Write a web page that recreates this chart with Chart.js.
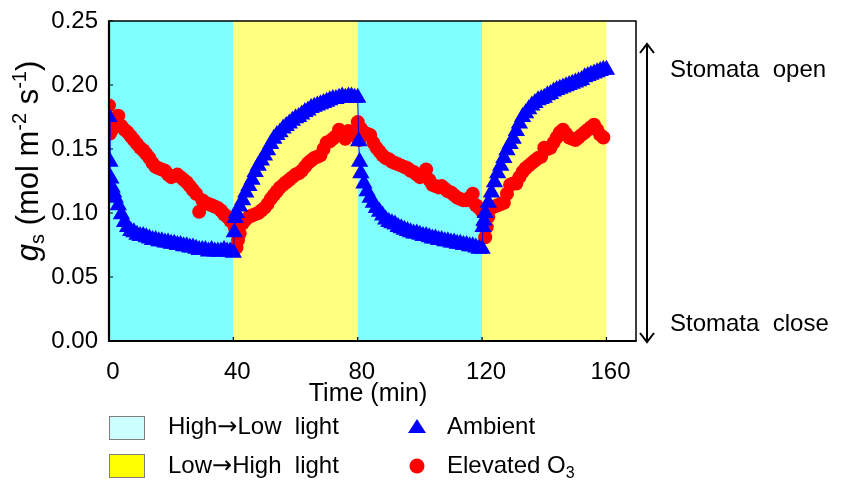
<!DOCTYPE html>
<html>
<head>
<meta charset="utf-8">
<script src="https://cdn.jsdelivr.net/npm/chart.js@4.4.0/dist/chart.umd.min.js"></script>
<style>
  html, body { margin: 0; padding: 0; background: #fff; }
</style>
</head>
<body>
<canvas id="gs-chart" width="846" height="483"></canvas>
<script>
const FONT = '"Liberation Sans", Arial, sans-serif';

// light periods (min): high->low, low->high, high->low, low->high
const bandStart = [0, 40, 80, 120];
const bandEnd = [40, 80, 120, 160];
const bandKind = ['down', 'up', 'down', 'up'];

const xTicks = [0, 40, 80, 120, 160];
const yTicks = [0, 0.05, 0.10, 0.15, 0.20, 0.25];

// Ambient
const ambTime = [
  0, 0.3, 0.6, 1, 1.5, 2, 3, 4, 5, 6, 7, 8, 9, 10, 11, 12, 13, 14, 15, 16, 17, 18, 19, 20, 21, 22, 23, 24, 25, 26, 27, 28, 29, 30, 31, 32, 33, 34, 35, 36, 37, 38, 39, 40,
  40.3, 40.6, 41, 42, 43, 44, 45, 46, 47, 48, 49, 50, 51, 52, 53, 54, 55, 56, 57, 58, 59, 60, 61, 62, 63, 64, 65, 66, 67, 68, 69, 70, 71, 72, 73, 74, 75, 76, 77, 78, 79, 80,
  80.3, 80.6, 81, 82, 83, 84, 85, 86, 87, 88, 89, 90, 91, 92, 93, 94, 95, 96, 97, 98, 99, 100, 101, 102, 103, 104, 105, 106, 107, 108, 109, 110, 111, 112, 113, 114, 115, 116, 117, 118, 119, 120,
  120.3, 120.6, 121, 122, 123, 124, 125, 126, 127, 128, 129, 130, 131, 132, 133, 134, 135, 136, 137, 138, 139, 140, 141, 142, 143, 144, 145, 146, 147, 148, 149, 150, 151, 152, 153, 154, 155, 156, 157, 158, 159, 160
];
const ambGs = [
  0.175, 0.140, 0.127, 0.120, 0.116, 0.112, 0.106, 0.099, 0.093, 0.089, 0.086, 0.085, 0.083, 0.082, 0.082, 0.081, 0.080, 0.079, 0.079, 0.078, 0.078, 0.077, 0.077, 0.076, 0.076, 0.075, 0.075, 0.074, 0.074, 0.073, 0.073, 0.072, 0.071, 0.071, 0.071, 0.070, 0.071, 0.070, 0.070, 0.070, 0.071, 0.070, 0.070, 0.069,
  0.085, 0.096, 0.100, 0.105, 0.110, 0.116, 0.121, 0.126, 0.132, 0.137, 0.141, 0.145, 0.149, 0.154, 0.158, 0.161, 0.163, 0.166, 0.168, 0.170, 0.172, 0.174, 0.175, 0.177, 0.179, 0.180, 0.182, 0.183, 0.184, 0.185, 0.186, 0.187, 0.188, 0.189, 0.189, 0.190, 0.191, 0.190, 0.191, 0.191, 0.190, 0.190,
  0.156, 0.140, 0.131, 0.123, 0.117, 0.112, 0.108, 0.104, 0.101, 0.098, 0.095, 0.093, 0.092, 0.091, 0.089, 0.088, 0.087, 0.086, 0.085, 0.084, 0.084, 0.083, 0.082, 0.082, 0.081, 0.080, 0.080, 0.079, 0.079, 0.078, 0.078, 0.077, 0.077, 0.076, 0.076, 0.075, 0.075, 0.074, 0.074, 0.073, 0.072, 0.072,
  0.089, 0.094, 0.100, 0.108, 0.116, 0.124, 0.131, 0.137, 0.143, 0.149, 0.154, 0.158, 0.164, 0.170, 0.175, 0.178, 0.181, 0.184, 0.186, 0.188, 0.189, 0.190, 0.192, 0.193, 0.195, 0.196, 0.197, 0.198, 0.199, 0.200, 0.201, 0.202, 0.203, 0.204, 0.206, 0.207, 0.208, 0.209, 0.210, 0.211, 0.212, 0.212
];

// Elevated O3
const o3Time = [
  0, 0.3, 0.6, 1, 2, 3, 4, 5, 6, 7, 8, 9, 10, 11, 12, 13, 14, 15, 16, 17, 18, 19, 20, 21, 22, 23, 24, 25, 26, 27, 28, 29, 30, 31, 32, 33, 34, 35, 36, 37, 38, 39, 40,
  40.5, 41, 41.5, 42, 43, 44, 45, 46, 47, 48, 49, 50, 51, 52, 53, 54, 55, 56, 57, 58, 59, 60, 61, 62, 63, 64, 65, 66, 67, 68, 69, 70, 71, 72, 73, 74, 75, 76, 77, 78, 79, 80,
  80.5, 81, 82, 83, 84, 85, 86, 87, 88, 89, 90, 91, 92, 93, 94, 95, 96, 97, 98, 99, 100, 101, 102, 103, 104, 105, 106, 107, 108, 109, 110, 111, 112, 113, 114, 115, 116, 117, 118, 119, 120,
  120.5, 121, 121.5, 122, 123, 124, 125, 126, 127, 128, 129, 130, 131, 132, 133, 134, 135, 136, 137, 138, 139, 140, 141, 142, 143, 144, 145, 146, 147, 148, 149, 150, 151, 152, 153, 154, 155, 156, 157, 158, 159
];
const o3Gs = [
  0.184, 0.162, 0.169, 0.165, 0.174, 0.176, 0.168, 0.165, 0.163, 0.160, 0.157, 0.154, 0.151, 0.149, 0.146, 0.143, 0.139, 0.136, 0.135, 0.134, 0.133, 0.130, 0.128, 0.129, 0.130, 0.128, 0.126, 0.124, 0.121, 0.118, 0.115, 0.101, 0.110, 0.108, 0.107, 0.106, 0.105, 0.104, 0.102, 0.099, 0.097, 0.094, 0.092,
  0.088, 0.073, 0.079, 0.084, 0.092, 0.095, 0.097, 0.098, 0.099, 0.100, 0.102, 0.104, 0.107, 0.111, 0.114, 0.117, 0.120, 0.122, 0.124, 0.126, 0.128, 0.130, 0.131, 0.133, 0.136, 0.139, 0.141, 0.143, 0.144, 0.145, 0.150, 0.155, 0.156, 0.158, 0.160, 0.165, 0.163, 0.158, 0.164, 0.161, 0.163, 0.171,
  0.157, 0.166, 0.163, 0.162, 0.161, 0.155, 0.151, 0.148, 0.145, 0.143, 0.142, 0.140, 0.139, 0.138, 0.137, 0.136, 0.135, 0.133, 0.132, 0.130, 0.128, 0.130, 0.134, 0.126, 0.122, 0.121, 0.120, 0.121, 0.119, 0.117, 0.116, 0.114, 0.112, 0.111, 0.110, 0.110, 0.112, 0.115, 0.106, 0.104, 0.101,
  0.090, 0.081, 0.089, 0.097, 0.104, 0.105, 0.106, 0.107, 0.108, 0.115, 0.122, 0.123, 0.123, 0.128, 0.132, 0.135, 0.137, 0.139, 0.141, 0.143, 0.144, 0.151, 0.150, 0.151, 0.155, 0.159, 0.163, 0.165, 0.162, 0.159, 0.158, 0.157, 0.159, 0.161, 0.163, 0.165, 0.167, 0.169, 0.165, 0.161, 0.159
];

const pts = (xs, ys) => xs.map((x, i) => ({ x: x, y: ys[i] }));

// coloured light periods behind the data
const lightBands = {
  id: 'lightBands',
  beforeDatasetsDraw(chart) {
    const { ctx, chartArea, scales } = chart;
    ctx.save();
    bandStart.forEach((s, i) => {
      const x0 = scales.x.getPixelForValue(s);
      const x1 = scales.x.getPixelForValue(bandEnd[i]);
      ctx.fillStyle = bandKind[i] === 'down' ? '#80ffff' : '#ffff80';
      ctx.fillRect(x0, chartArea.top, x1 - x0, chartArea.bottom - chartArea.top);
    });
    ctx.restore();
  }
};

// box round the plot + small inward ticks
const frame = {
  id: 'frame',
  afterDatasetsDraw(chart) {
    const { ctx, chartArea: a, scales } = chart;
    ctx.save();
    ctx.strokeStyle = '#000';
    ctx.lineWidth = 1.5;
    ctx.beginPath();
    ctx.moveTo(a.left, a.top); ctx.lineTo(a.right, a.top); ctx.lineTo(a.right, a.bottom);
    ctx.stroke();
    ctx.lineWidth = 2.2;
    ctx.beginPath();
    ctx.moveTo(a.left, a.top - 0.7); ctx.lineTo(a.left, a.bottom); ctx.lineTo(a.right + 0.7, a.bottom);
    ctx.stroke();
    ctx.lineWidth = 1.2;
    ctx.beginPath();
    yTicks.forEach(v => {
      const y = scales.y.getPixelForValue(v);
      ctx.moveTo(a.left, y); ctx.lineTo(a.left + 4, y);
    });
    xTicks.forEach(v => {
      const x = scales.x.getPixelForValue(v);
      ctx.moveTo(x, a.bottom); ctx.lineTo(x, a.bottom - 4);
    });
    ctx.stroke();
    ctx.restore();
  }
};

function setFont(ctx, p) {
  ctx.font = (p.italic ? 'italic ' : '') + p.size + 'px ' + (p.family || FONT);
}
function richText(ctx, parts, x, y) {
  let cx = x;
  parts.forEach(p => {
    setFont(ctx, p);
    ctx.fillText(p.t, cx, y + (p.dy || 0));
    cx += ctx.measureText(p.t).width;
  });
  return cx;
}
function richWidth(ctx, parts) {
  let w = 0;
  parts.forEach(p => {
    setFont(ctx, p);
    w += ctx.measureText(p.t).width;
  });
  return w;
}

// titles, arrow, legend
const extras = {
  id: 'extras',
  afterDraw(chart) {
    const ctx = chart.ctx;
    ctx.save();
    ctx.fillStyle = '#000';
    ctx.textBaseline = 'alphabetic';
    ctx.textAlign = 'left';

    // y title
    const yTitle = [
      { t: 'g', size: 31, italic: true },
      { t: 's', size: 20, dy: 6 },
      { t: ' (mol m', size: 31 },
      { t: '-2', size: 20, dy: -12 },
      { t: ' s', size: 31 },
      { t: '-1', size: 20, dy: -12 },
      { t: ')', size: 31 }
    ];
    ctx.save();
    ctx.translate(38, 161);
    ctx.rotate(-Math.PI / 2);
    const w = richWidth(ctx, yTitle);
    richText(ctx, yTitle, -w / 2, 0);
    ctx.restore();

    // x title
    ctx.textAlign = 'center';
    ctx.font = '25px ' + FONT;
    ctx.fillText('Time (min)', 368, 401);

    // stomata arrow
    ctx.strokeStyle = '#000';
    ctx.lineWidth = 2;
    ctx.beginPath();
    ctx.moveTo(647, 44); ctx.lineTo(647, 342);
    ctx.moveTo(640, 53); ctx.lineTo(647, 44); ctx.lineTo(654, 53);
    ctx.moveTo(640, 333); ctx.lineTo(647, 342); ctx.lineTo(654, 333);
    ctx.stroke();
    ctx.textAlign = 'left';
    ctx.font = '24px ' + FONT;
    ctx.fillText('Stomata  open', 670, 77);
    ctx.fillText('Stomata  close', 670, 331);

    // legend
    ctx.lineWidth = 1;
    ctx.strokeStyle = '#7f7f7f';
    ctx.fillStyle = '#ccffff';
    ctx.fillRect(109.5, 416.5, 35, 23);
    ctx.strokeRect(109.5, 416.5, 35, 23);
    ctx.fillStyle = '#ffff00';
    ctx.fillRect(109.5, 454.5, 35, 23);
    ctx.strokeRect(109.5, 454.5, 35, 23);

    ctx.fillStyle = '#0000ff';
    ctx.beginPath();
    ctx.moveTo(417, 419); ctx.lineTo(426, 433); ctx.lineTo(408, 433);
    ctx.closePath();
    ctx.fill();
    ctx.fillStyle = '#ff0000';
    ctx.beginPath();
    ctx.arc(417, 466, 7.5, 0, Math.PI * 2);
    ctx.fill();

    ctx.fillStyle = '#000';
    const arrow = { t: '\u2192', size: 24, family: '"DejaVu Sans", sans-serif' };
    richText(ctx, [{ t: 'High', size: 24 }, arrow, { t: 'Low  light', size: 24 }], 168, 434);
    richText(ctx, [{ t: 'Low', size: 24 }, arrow, { t: 'High  light', size: 24 }], 168, 473);
    richText(ctx, [{ t: 'Ambient', size: 24 }], 447, 434);
    richText(ctx, [{ t: 'Elevated O', size: 24 }, { t: '3', size: 16, dy: 5 }], 447, 473);
    ctx.restore();
  }
};

new Chart(document.getElementById('gs-chart'), {
  type: 'scatter',
  data: {
    datasets: [
      {
        label: 'Ambient',
        data: pts(ambTime, ambGs),
        showLine: true,
        borderColor: '#0000ff',
        borderWidth: 1,
        backgroundColor: '#0000ff',
        pointStyle: 'triangle',
        pointRadius: 10,
        pointHoverRadius: 10,
        pointBorderWidth: 0
      },
      {
        label: 'Elevated O3',
        data: pts(o3Time, o3Gs),
        showLine: true,
        borderColor: '#ff0000',
        borderWidth: 1,
        backgroundColor: '#ff0000',
        pointStyle: 'circle',
        pointRadius: 7,
        pointHoverRadius: 7,
        pointBorderWidth: 0
      }
    ]
  },
  options: {
    responsive: false,
    animation: false,
    layout: { padding: { left: 0, top: 21, right: 210, bottom: 0 } },
    plugins: {
      legend: { display: false },
      tooltip: { enabled: false }
    },
    scales: {
      x: {
        type: 'linear',
        min: 0,
        max: 169.5,
        afterBuildTicks: s => { s.ticks = xTicks.map(v => ({ value: v })); },
        afterFit: s => { s.height = 142; },
        ticks: {
          font: { family: FONT, size: 24 },
          color: '#000',
          padding: 9,
          labelOffset: 4,
          maxRotation: 0,
          autoSkip: false
        },
        grid: { display: false },
        border: { display: false }
      },
      y: {
        min: 0,
        max: 0.25,
        afterBuildTicks: s => { s.ticks = yTicks.map(v => ({ value: v })); },
        afterFit: s => { s.width = 109; },
        ticks: {
          font: { family: FONT, size: 24 },
          color: '#000',
          padding: 3,
          callback: v => v.toFixed(2)
        },
        grid: { display: false },
        border: { display: false }
      }
    }
  },
  plugins: [lightBands, frame, extras]
});
</script>
</body>
</html>
